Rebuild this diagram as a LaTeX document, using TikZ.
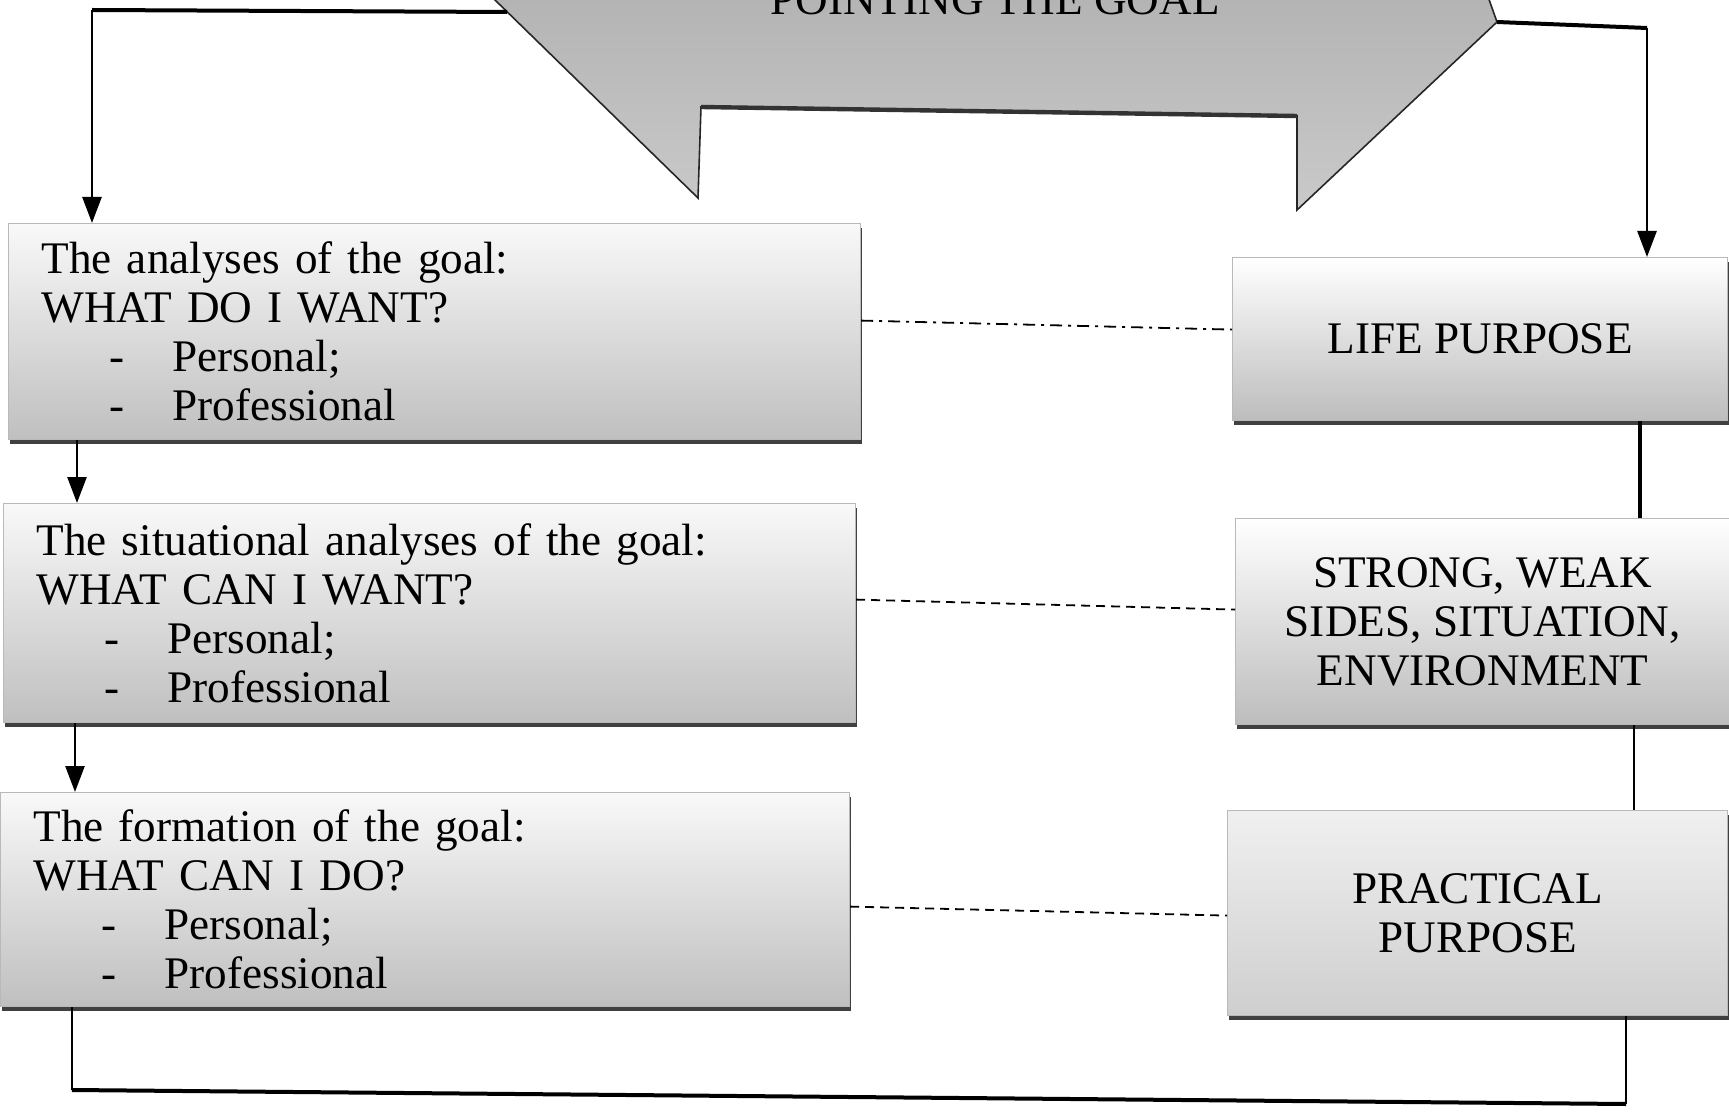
\documentclass[tikz,border=0pt]{standalone}
\usepackage{fontspec}
\setmainfont{Liberation Serif}
\usetikzlibrary{arrows.meta,shadows}
\begin{document}
\begin{tikzpicture}[x=0.5pt,y=-0.5pt,
  txt/.style={font=\fontsize{22.6}{24.5}\selectfont},
  boxbase/.style={rectangle, draw=gray!55, line width=0.6pt, inner ysep=0pt,
    top color=gray!5, bottom color=gray!50, txt,
    drop shadow={shadow xshift=0.8pt, shadow yshift=-2pt, fill=black!75, opacity=1}},
  lbox/.style={boxbase, anchor=north west, align=left, inner xsep=16.5pt},
  rbox/.style={boxbase, anchor=north west, align=center, inner xsep=4pt},
  goalshape/.style={draw=black!85, line width=0.8pt, top color=gray!62, bottom color=gray!42},
  conn/.style={line width=1.3pt, line join=miter},
  thickconn/.style={line width=2pt, line join=miter},
  arr/.style={conn, -{Triangle[length=13pt,width=9.5pt]}},
  dashdotline/.style={line width=0.9pt, dash pattern=on 6pt off 3pt on 1.5pt off 3pt},
  dashline/.style={line width=0.9pt, dash pattern=on 4.5pt off 3pt}
]
\useasboundingbox (0,0) rectangle (1729,1117);
\clip (0,0) rectangle (1729,1117);

% top arrow shape
\path[goalshape] (470,-40) -- (495,0) -- (698,198) -- (701,107) -- (1297,116)
  -- (1297,210) -- (1497,22) -- (1475,-40) -- cycle;
\draw[line width=2.2pt, black!80] (701,107) -- (1297,116);
\node[txt, anchor=base] (title) at (995,15) {POINTING THE GOAL};

% left boxes
\node[lbox, text width=393pt, minimum height=108pt] (b1) at (8,223)
  {The analyses of the goal:\\ WHAT DO I WANT?\\
   \hspace*{34pt}\makebox[31.5pt][l]{-}Personal;\\
   \hspace*{34pt}\makebox[31.5pt][l]{-}Professional};
\node[lbox, text width=393pt, minimum height=109.5pt] (b2) at (3,503)
  {The situational analyses of the goal:\\ WHAT CAN I WANT?\\
   \hspace*{34pt}\makebox[31.5pt][l]{-}Personal;\\
   \hspace*{34pt}\makebox[31.5pt][l]{-}Professional};
\node[lbox, text width=391.5pt, minimum height=107pt] (b3) at (0,792)
  {The formation of the goal:\\ WHAT CAN I DO?\\
   \hspace*{34pt}\makebox[31.5pt][l]{-}Personal;\\
   \hspace*{34pt}\makebox[31.5pt][l]{-}Professional};

% right boxes
\node[rbox, minimum width=247.5pt, minimum height=81.5pt, top color=white, bottom color=gray!52] (lp) at (1232,257)
  {LIFE PURPOSE};
\node[rbox, minimum width=247pt, minimum height=103pt, top color=white, bottom color=gray!52] (st) at (1235,518)
  {STRONG, WEAK\\ SIDES, SITUATION,\\ ENVIRONMENT};
\node[rbox, minimum width=250pt, minimum height=102.5pt, top color=gray!12, bottom color=gray!38] (pr) at (1227,810)
  {PRACTICAL\\ PURPOSE};

% coordinates for connectors
\coordinate (sL) at (507,12);
\coordinate (sR) at (1497,22);
\coordinate (tl) at (92,10);
\coordinate (tr) at (1647,28);
\coordinate (x1) at (77,0);
\coordinate (x2) at (75,0);
\coordinate (bl) at (72,1090);
\coordinate (br) at (1626,1104);
\coordinate (xr1) at (1640,0);
\coordinate (xr2) at (1634,0);

% connectors
\draw[thickconn] (sL) -- (tl);
\draw[arr] (tl) -- (tl |- b1.north);
\draw[thickconn] (sR) -- (tr);
\draw[arr] (tr) -- (tr |- lp.north);
\draw[arr] (b1.south -| x1) -- (b2.north -| x1);
\draw[arr] (b2.south -| x2) -- (b3.north -| x2);
\draw[conn] (b3.south -| bl) -- (bl);
\draw[thickconn] (bl) -- (br);
\draw[conn] (br) -- (br |- pr.south);
\draw[thickconn] (lp.south -| xr1) -- (st.north -| xr1);
\draw[conn] (st.south -| xr2) -- (pr.north -| xr2);

% dashed links
\draw[dashdotline] ([yshift=5.5pt]b1.east) -- ([yshift=4.75pt]lp.west);
\draw[dashline] ([yshift=6.75pt]b2.east) -- ([yshift=6pt]st.west);
\draw[dashline] ([yshift=-3.5pt]b3.east) -- ([yshift=-1.25pt]pr.west);
\end{tikzpicture}
\end{document}
